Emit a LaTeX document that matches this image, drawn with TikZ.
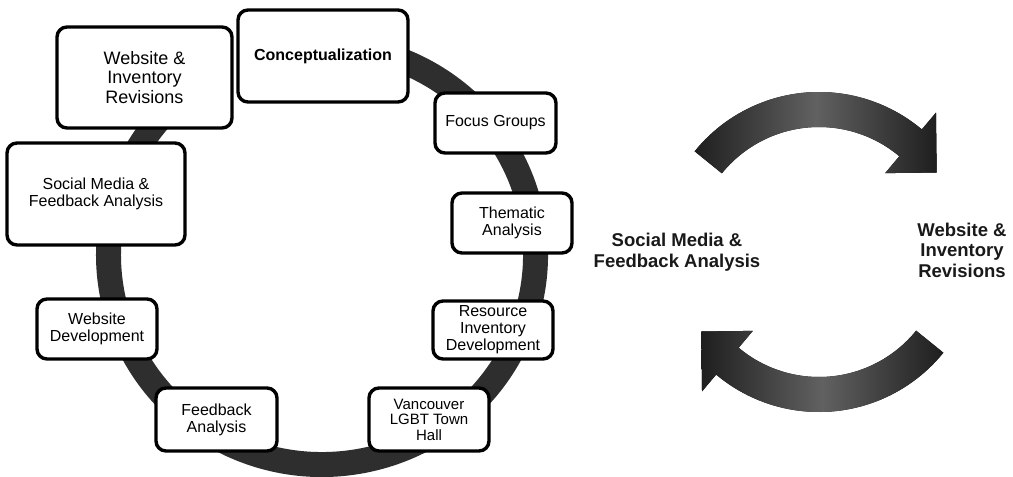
\documentclass[tikz,border=0pt]{standalone}
\usepackage{fontspec}
\setmainfont{Liberation Sans}
\usetikzlibrary{calc}
\begin{document}
\begin{tikzpicture}[x=1pt,y=-1pt,
  box/.style={draw=black, line width=3.4pt, rounded corners=10pt, fill=white,
    align=center, inner sep=0pt, font=\fontsize{16}{17}\selectfont},
  ringline/.style={draw=black!82, line width=25pt},
  arrowfill/.style={left color=black!88, right color=black!88, middle color=black!62},
  sidelabel/.style={align=center, text=black!90, font=\bfseries\fontsize{18.5}{20.5}\selectfont}
]
\useasboundingbox (0,0) rectangle (1013,477);
\fill[white] (0,0) rectangle (1013,477);

% ring (open between the two top-left boxes)
\coordinate (rc) at (322,255);
\draw[ringline] ($(rc)+(-104:213.5 and 209.5)$)
  arc[start angle=-104, end angle=234, x radius=213.5, y radius=209.5];

% boxes
\node[box, minimum width=175pt, minimum height=101pt, font=\fontsize{18}{19.5}\selectfont] (wir) at (144.5,77.5) {Website \&\\Inventory\\Revisions};
\node[box, minimum width=170pt, minimum height=92pt, font=\bfseries\fontsize{16}{17}\selectfont] (concept) at (323,56) {Conceptualization};
\node[box, minimum width=121pt, minimum height=60pt] (focus) at (495.5,123) {Focus Groups};
\node[box, minimum width=178pt, minimum height=102pt] (social) at (96,194) {Social Media \&\\Feedback Analysis};
\node[box, minimum width=120pt, minimum height=60pt] (thematic) at (512,223) {Thematic\\Analysis};
\node[box, minimum width=120pt, minimum height=60pt] (webdev) at (97,329) {Website\\Development};
\node[box, minimum width=120pt, minimum height=58pt] (resource) at (493,330) {Resource\\Inventory\\Development};
\node[box, minimum width=121pt, minimum height=63pt] (feedback) at (216.5,419.5) {Feedback\\Analysis};
\node[box, minimum width=120pt, minimum height=63pt, font=\fontsize{15}{15.5}\selectfont] (town) at (429,419.5) {Vancouver\\LGBT Town\\Hall};

% right cycle
\coordinate (ac) at (819,252);
\fill[arrowfill] ($(ac)+(-141:160)$) arc[start angle=-141, end angle=-50, radius=160]
  -- ($(ac)+(-50:182)$) -- ($(ac)+(-34:142)$) -- ($(ac)+(-50:103)$)
  -- ($(ac)+(-50:125)$) arc[start angle=-50, end angle=-141, radius=125] -- cycle;
\fill[arrowfill] ($(ac)+(39:160)$) arc[start angle=39, end angle=130, radius=160]
  -- ($(ac)+(130:182)$) -- ($(ac)+(146:142)$) -- ($(ac)+(130:103)$)
  -- ($(ac)+(130:125)$) arc[start angle=130, end angle=39, radius=125] -- cycle;

\node[sidelabel] (lsocial) at (677,252) {Social Media \&\\Feedback Analysis};
\node[sidelabel] (lwir) at (962,250) {Website \&\\Inventory\\Revisions};
\end{tikzpicture}
\end{document}
